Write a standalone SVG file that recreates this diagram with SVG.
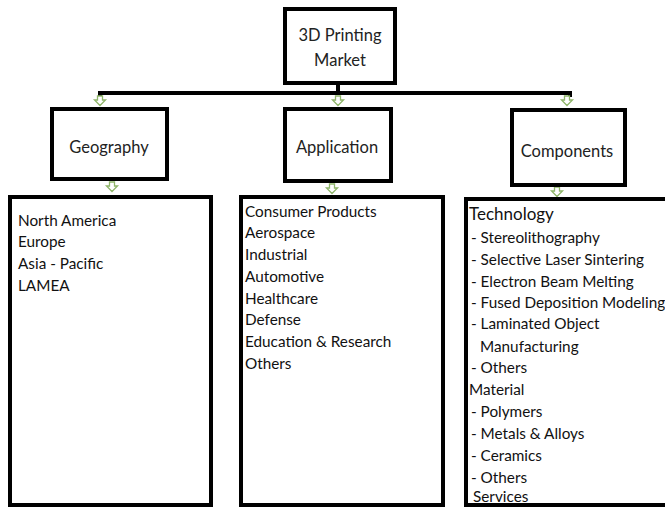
<svg xmlns="http://www.w3.org/2000/svg" width="665" height="508" viewBox="0 0 665 508">
<defs>
<style>
.box{fill:#fff;stroke:#000;stroke-width:4}
.ln{fill:none;stroke:#000;stroke-width:4}
.arr{fill:#fff;stroke:#8fb56a;stroke-width:1.3;stroke-linejoin:miter}
.t{font-family:Lato,"Liberation Sans",sans-serif;fill:#222;font-size:16.5px;text-anchor:middle}
.l{font-family:Lato,"Liberation Sans",sans-serif;fill:#111;font-size:15.3px}
.h{font-size:17px}
</style>
<path id="a" d="M-2.5,0 h5 v4 h3 l-5.5,5.5 l-5.5,-5.5 h3 z"/>
</defs>
<rect width="665" height="508" fill="#fff"/>
<g id="connectors">
<path class="ln" d="M338,83 V93 M100,97 V93 H570 V97"/>
<use href="#a" class="arr" x="100" y="96"/>
<use href="#a" class="arr" x="338" y="96"/>
<use href="#a" class="arr" x="567" y="96"/>
<use href="#a" class="arr" x="112" y="182"/>
<use href="#a" class="arr" x="332" y="184"/>
<use href="#a" class="arr" x="557" y="187"/>
</g>
<g id="root">
<rect class="box" x="285" y="9" width="110" height="74"/>
<text class="t" x="340" y="41">3D Printing</text>
<text class="t" x="340" y="66">Market</text>
</g>
<g id="geography">
<rect class="box" x="52" y="109" width="115" height="70"/>
<text class="t" x="109" y="153">Geography</text>
</g>
<g id="application">
<rect class="box" x="285" y="109" width="106" height="72"/>
<text class="t" x="337" y="153">Application</text>
</g>
<g id="components">
<rect class="box" x="512" y="110" width="113" height="75"/>
<text class="t" x="567" y="157">Components</text>
</g>
<g id="geography-list">
<rect class="box" x="10" y="197" width="201" height="308"/>
<text class="l" x="18" y="226">North America</text>
<text class="l" x="18" y="247">Europe</text>
<text class="l" x="18" y="269">Asia - Pacific</text>
<text class="l" x="18" y="291">LAMEA</text>
</g>
<g id="application-list">
<rect class="box" x="241" y="197" width="202" height="308"/>
<text class="l" x="245" y="217">Consumer Products</text>
<text class="l" x="245" y="238">Aerospace</text>
<text class="l" x="245" y="260">Industrial</text>
<text class="l" x="245" y="282">Automotive</text>
<text class="l" x="245" y="304">Healthcare</text>
<text class="l" x="245" y="325">Defense</text>
<text class="l" x="245" y="347">Education &amp; Research</text>
<text class="l" x="245" y="369">Others</text>
</g>
<g id="components-list">
<rect class="box" x="466" y="199" width="221" height="306"/>
<text class="l h" x="469" y="220">Technology</text>
<text class="l" x="471" y="243">- Stereolithography</text>
<text class="l" x="471" y="265">- Selective Laser Sintering</text>
<text class="l" x="471" y="287">- Electron Beam Melting</text>
<text class="l" x="471" y="308">- Fused Deposition Modeling</text>
<text class="l" x="471" y="329">- Laminated Object</text>
<text class="l" x="480" y="352">Manufacturing</text>
<text class="l" x="471" y="373">- Others</text>
<text class="l" x="469" y="395">Material</text>
<text class="l" x="471" y="417">- Polymers</text>
<text class="l" x="471" y="439">- Metals &amp; Alloys</text>
<text class="l" x="471" y="461">- Ceramics</text>
<text class="l" x="471" y="483">- Others</text>
<text class="l" x="473" y="502">Services</text>
</g>
</svg>
